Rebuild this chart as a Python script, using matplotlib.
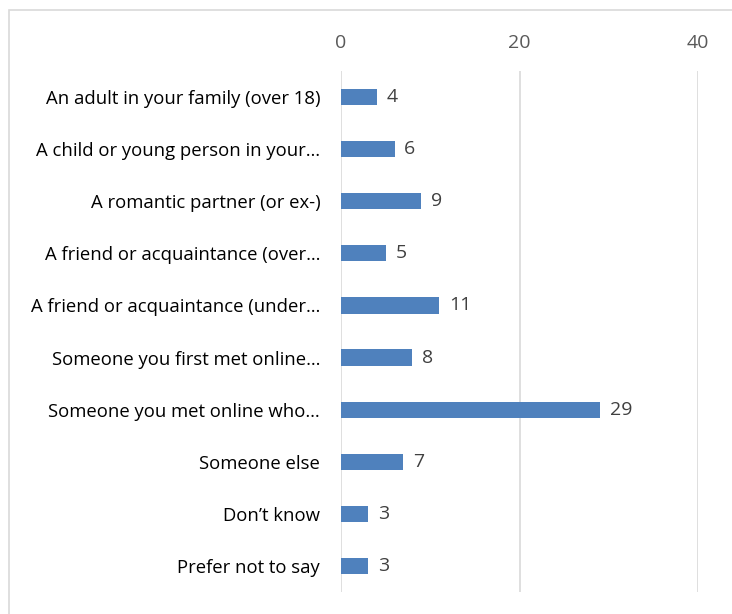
import matplotlib.pyplot as plt
from matplotlib.patches import Rectangle

categories = [
    "An adult in your family (over 18)",
    "A child or young person in your…",
    "A romantic partner (or ex-)",
    "A friend or acquaintance (over…",
    "A friend or acquaintance (under…",
    "Someone you first met online…",
    "Someone you met online who…",
    "Someone else",
    "Don\u2019t know",
    "Prefer not to say",
]
values = [4, 6, 9, 5, 11, 8, 29, 7, 3, 3]
xticks = [0, 20, 40]

plt.rcParams['font.family'] = ['Open Sans', 'DejaVu Sans']

fig = plt.figure(figsize=(7.32, 6.14), dpi=100)
W, H = 732, 614

# light frame round the chart area
fig.patches.append(Rectangle((9 / W, -0.1), 1.1, (H - 10) / H + 0.1,
                             transform=fig.transFigure, fill=False,
                             edgecolor="#D9D9D9", linewidth=1.2))

ax = fig.add_axes([341 / W, (H - 592) / H, (698 - 341) / W, (592 - 71) / H])
y = list(range(len(categories)))
ax.barh(y, values, height=0.31, color="#4F81BD", zorder=3)
for yi, v in zip(y, values):
    ax.text(v + 1.1, yi, str(v), va="center", ha="left",
            fontsize=14, color="#404040")

ax.set_xlim(0, 40)
ax.set_ylim(len(categories) - 0.5, -0.5)
ax.set_xticks(xticks)
ax.set_yticks(y)
ax.set_yticklabels(categories)
ax.xaxis.tick_top()
ax.tick_params(axis="x", length=0, pad=14, labelsize=14, labelcolor="#595959")
ax.tick_params(axis="y", length=0, pad=15, labelsize=13.3, labelcolor="#000000")
ax.grid(axis="x", color="#D9D9D9", linewidth=1.2, zorder=0)
for s in ax.spines.values():
    s.set_visible(False)

fig.savefig("out.png", dpi=100)
